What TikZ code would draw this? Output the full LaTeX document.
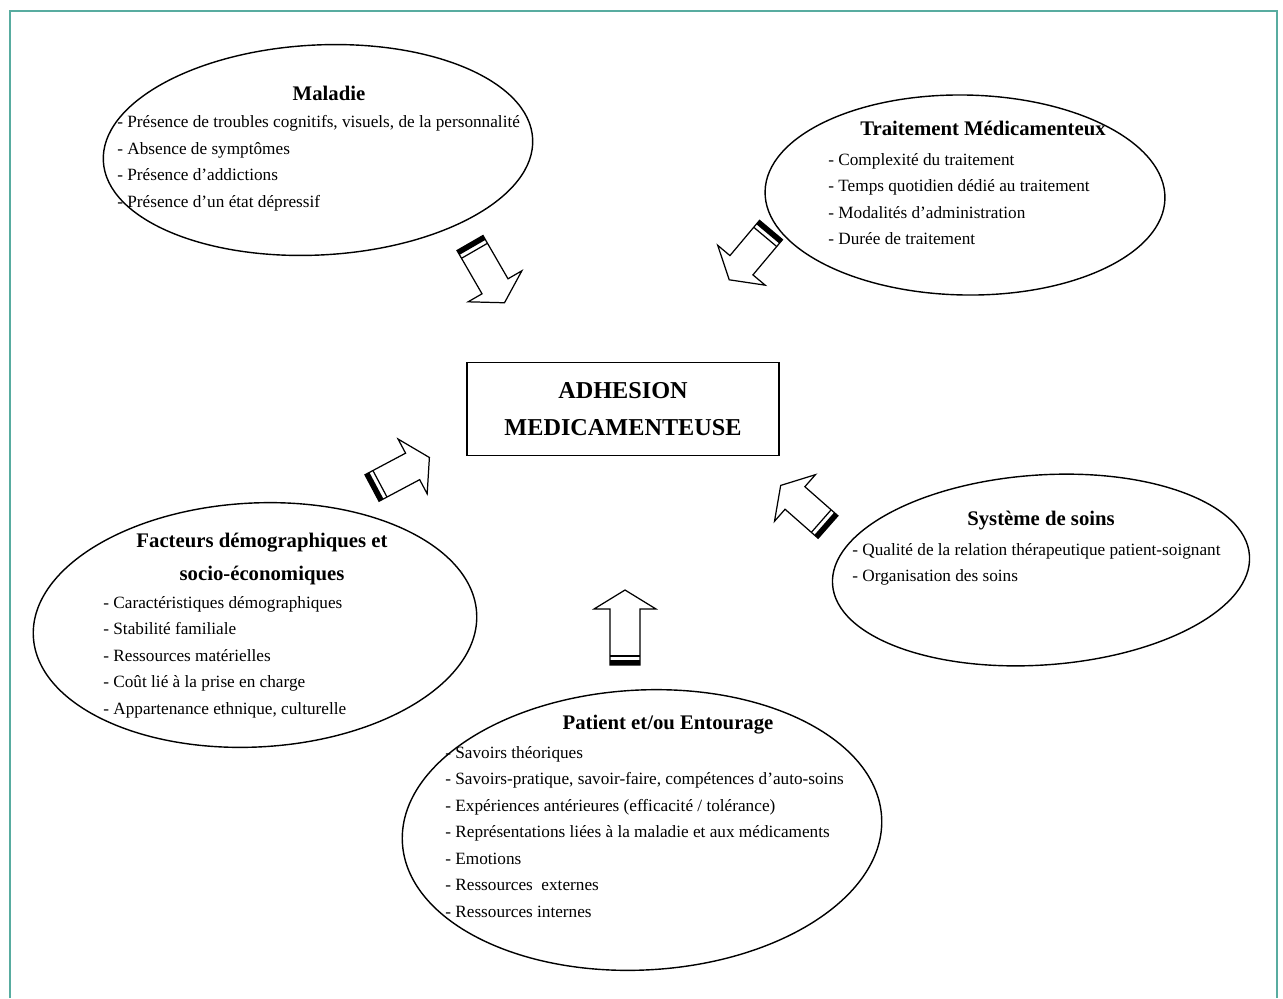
\documentclass[tikz,border=0pt]{standalone}
\usepackage{fontspec}
\setmainfont{Liberation Serif}
\usetikzlibrary{shapes.geometric, positioning}

\definecolor{framecol}{RGB}{88,172,160}

\tikzset{
  blockarrow/.pic={
    \draw[line width=0.7pt, fill=white]
      (0,-15) -- (#1-19,-15) -- (#1-19,-31) -- (#1,0) -- (#1-19,31) -- (#1-19,15) -- (0,15) -- cycle;
    \fill (0,-15) rectangle (5,15);
    \draw[line width=0.7pt] (9,-15) -- (9,15);
  }
}

\begin{document}
\begin{tikzpicture}[
  x=0.02cm, y=-0.02cm,
  oval/.style={ellipse, draw, line width=0.8pt, inner sep=0pt},
  title/.style={font=\bfseries\fontsize{11.8}{18.5}\selectfont, align=center, inner sep=0pt},
  items/.style={anchor=north west, align=left, inner sep=0pt, font=\fontsize{9.8}{15.1}\selectfont}
]
\useasboundingbox (0,0) rectangle (1283,998);
\draw[framecol, line width=1.6pt] (10,998) -- (10,11) -- (1277,11) -- (1277,998);

% ellipses
\node[oval, rotate=3, minimum width=8.6cm, minimum height=4.2cm] (maladie) at (318,150) {};
\node[oval, rotate=-1, minimum width=8cm, minimum height=4cm] (traitement) at (965,195) {};
\node[oval, rotate=3, minimum width=8.88cm, minimum height=4.88cm] (facteurs) at (255,625) {};
\node[oval, rotate=4, minimum width=8.36cm, minimum height=3.8cm] (soins) at (1041,570) {};
\node[oval, rotate=3, minimum width=9.6cm, minimum height=5.6cm] (patient) at (642,830) {};

% centre
\node[draw, line width=0.9pt, minimum width=6.24cm, minimum height=1.86cm, align=center,
  font=\bfseries\fontsize{13.8}{21}\selectfont] (adh) at (623,409) {ADHESION\\MEDICAMENTEUSE};

% block arrows
\pic[rotate=-60] (arrMal) at (470,243) {blockarrow=69};
\pic[rotate=-130] (arrTrt) at (771,230) {blockarrow=65};
\pic[rotate=28] (arrFac) at (372,488) {blockarrow=65};
\pic[rotate=138.7] (arrSoi) at (828,527) {blockarrow=63};
\pic[rotate=90] (arrPat) at (625,665) {blockarrow=75};

% texts
\node[title] (tMal) at (329,93) {Maladie};
\node[items] (lMal) at (117,115) {- Présence de troubles cognitifs, visuels, de la personnalité\\- Absence de symptômes\\- Présence d’addictions\\- Présence d’un état dépressif};

\node[title] (tTrt) at (983,128) {Traitement Médicamenteux};
\node[items] (lTrt) at (828,153) {- Complexité du traitement\\- Temps quotidien dédié au traitement\\- Modalités d’administration\\- Durée de traitement};

\node[title] (tFac) at (262,559) {Facteurs démographiques et\\socio-économiques};
\node[items] (lFac) at (103,596) {- Caractéristiques démographiques\\- Stabilité familiale\\- Ressources matérielles\\- Coût lié à la prise en charge\\- Appartenance ethnique, culturelle};

\node[title] (tSoi) at (1041,521) {Système de soins};
\node[items] (lSoi) at (852,543) {- Qualité de la relation thérapeutique patient-soignant\\- Organisation des soins};

\node[title] (tPat) at (668,725) {Patient et/ou Entourage};
\node[items] (lPat) at (445,746) {- Savoirs théoriques\\- Savoirs-pratique, savoir-faire, compétences d’auto-soins\\- Expériences antérieures (efficacité / tolérance)\\- Représentations liées à la maladie et aux médicaments\\- Emotions\\- Ressources\ \ externes\\- Ressources internes};
\end{tikzpicture}
\end{document}
